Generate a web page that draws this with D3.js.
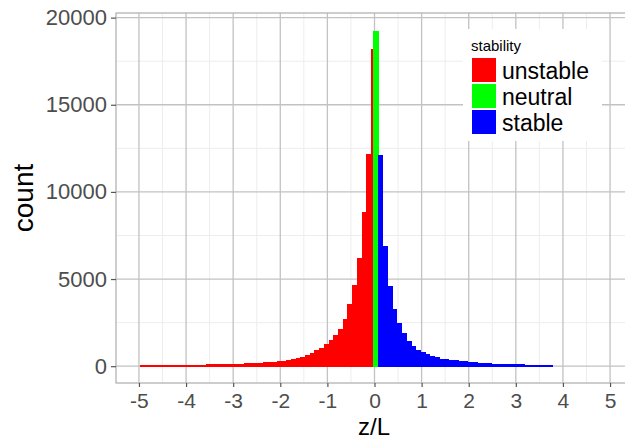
<!DOCTYPE html>
<html><head><meta charset="utf-8">
<script src="https://cdn.jsdelivr.net/npm/d3@7"></script>
<style>body{margin:0;background:#fff}svg{display:block}text{font-family:"Liberation Sans",Arial,sans-serif}</style>
</head><body>
<script>
// bin lower edges start at these values; binwidth 0.1
const binWidth = 0.1;
const unstableStart = -4.975;
const unstableCounts = [60,62,64,66,68,70,72,74,76,80,84,88,92,96,100,105,110,115,122,130,138,146,155,165,178,195,215,235,260,285,315,355,400,470,535,630,780,915,1050,1260,1490,1815,2160,2730,3590,4640,6230,8840,12150,18200];
const neutralStart = -0.025;
const neutralCounts = [19250];
const stableStart = 0.075;
const stableCounts = [12130,6880,4590,3300,2450,1880,1460,1150,900,790,700,610,510,440,400,370,330,300,270,240,215,195,180,165,150,140,130,120,112,105,98,92,86,80,75,70,65];
const xTicks = [-5,-4,-3,-2,-1,0,1,2,3,4,5];
const yTicks = [0,5000,10000,15000,20000];
const categories = ["unstable","neutral","stable"];
const colors = ["#ff0000","#00ff00","#0000ff"];

const W=625,H=441;
const svg=d3.select("body").append("svg").attr("width",W).attr("height",H);
const panel={l:116,t:13,b:383};
const x=d3.scaleLinear().domain([-5.5,5.5]).range([115.4,633.6]);
const y=d3.scaleLinear().domain([-965,20265]).range([panel.b,panel.t]);

function bins(start,counts,cat){return counts.map((c,i)=>({x0:start+i*binWidth,x1:start+(i+1)*binWidth,c,cat}));}
const data=[...bins(unstableStart,unstableCounts,"unstable"),...bins(neutralStart,neutralCounts,"neutral"),...bins(stableStart,stableCounts,"stable")];
const color=d3.scaleOrdinal().domain(categories).range(colors);

const g=svg.append("g");
g.append("defs").append("clipPath").attr("id","clip").append("rect").attr("x",panel.l).attr("y",panel.t).attr("width",W-panel.l).attr("height",panel.b-panel.t);
const pg=g.append("g").attr("clip-path","url(#clip)");
// minor grid
const xMinor=d3.range(-5.5,5.6,1), yMinor=[2500,7500,12500,17500];
pg.selectAll(".xm").data(xMinor).join("line").attr("x1",d=>x(d)).attr("x2",d=>x(d)).attr("y1",panel.t).attr("y2",panel.b).attr("stroke","#ededed").attr("stroke-width",1);
pg.selectAll(".ym").data(yMinor).join("line").attr("x1",panel.l).attr("x2",W).attr("y1",d=>y(d)).attr("y2",d=>y(d)).attr("stroke","#ededed").attr("stroke-width",1);
pg.selectAll(".xM").data(xTicks).join("line").attr("x1",d=>x(d)).attr("x2",d=>x(d)).attr("y1",panel.t).attr("y2",panel.b).attr("stroke","#c2c2c2").attr("stroke-width",1.3);
pg.selectAll(".yM").data(yTicks).join("line").attr("x1",panel.l).attr("x2",W).attr("y1",d=>y(d)).attr("y2",d=>y(d)).attr("stroke","#c2c2c2").attr("stroke-width",1.3);
// bars
pg.selectAll(".bar").data(data).join("rect")
 .attr("x",d=>x(d.x0)).attr("width",d=>x(d.x1)-x(d.x0)+0.6)
 .attr("y",d=>y(d.c)).attr("height",d=>y(0)-y(d.c)+0.6)
 .attr("fill",d=>color(d.cat)).attr("shape-rendering","crispEdges");
// panel border
g.append("rect").attr("x",panel.l).attr("y",panel.t).attr("width",W-panel.l+5).attr("height",panel.b-panel.t).attr("fill","none").attr("stroke","#b3b3b3").attr("stroke-width",1.3);

// axes
const xa=svg.append("g").attr("transform",`translate(0,${panel.b})`).call(d3.axisBottom(x).tickValues(xTicks).tickSize(4).tickPadding(6).tickFormat(d3.format("d")));
const ya=svg.append("g").attr("transform",`translate(${panel.l},0)`).call(d3.axisLeft(y).tickValues(yTicks).tickSize(5).tickPadding(4).tickFormat(d=>String(d)));
[xa,ya].forEach(a=>{a.select(".domain").remove();a.selectAll(".tick line").attr("stroke","#555").attr("stroke-width",1.2);
 a.selectAll(".tick text").attr("fill","#4d4d4d").style("font-size","21px").style("font-family","'Liberation Sans',Arial,sans-serif");});
ya.selectAll(".tick text").style("font-size","22px");
xa.selectAll(".tick text").text(d=>d<0?"-"+Math.abs(d):String(d));

svg.append("text").attr("x",374).attr("y",435).attr("text-anchor","middle").style("font-size","24px").attr("fill","#000").text("z/L");
svg.append("text").attr("transform","translate(33,198) rotate(-90)").attr("text-anchor","middle").style("font-size","28px").attr("fill","#000").text("count");

// legend
const lg=svg.append("g");
lg.append("rect").attr("x",463).attr("y",29).attr("width",139).attr("height",112).attr("fill","#fff");
lg.append("text").attr("x",471).attr("y",51).style("font-size","15px").attr("fill","#000").text("stability");
categories.forEach((c,i)=>{
 lg.append("rect").attr("x",472).attr("y",58+i*26).attr("width",24).attr("height",24).attr("fill",color(c));
 lg.append("text").attr("x",502).attr("y",79+i*26).style("font-size","23px").attr("fill","#000").text(c);
});
</script>
</body></html>
